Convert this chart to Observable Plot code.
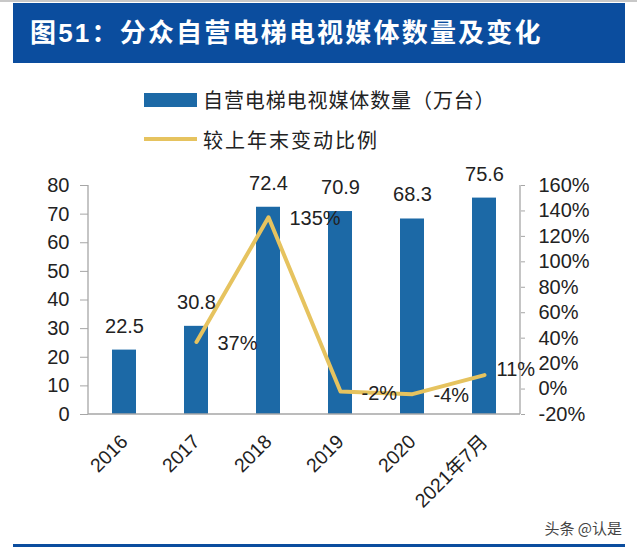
<!DOCTYPE html>
<html><head><meta charset="utf-8">
<script src="https://cdn.jsdelivr.net/npm/d3@7"></script>
<script src="https://cdn.jsdelivr.net/npm/@observablehq/plot@0.6"></script>
<style>
html,body{margin:0;padding:0;background:#fff;}
#page{position:relative;width:637px;height:551px;overflow:hidden;font-family:"Liberation Sans","Noto Sans CJK SC",sans-serif;color:#222;}
#topline{position:absolute;left:0;top:0;width:637px;height:2px;background:#c8c8c8;}
#title{position:absolute;left:13px;top:3px;width:612px;height:60px;background:#0b4d9e;color:#fff;font-weight:bold;font-size:26px;letter-spacing:2.2px;line-height:60px;padding-left:17px;box-sizing:border-box;font-family:"Liberation Sans","Noto Sans CJK SC",sans-serif;white-space:nowrap;}
.leg{position:absolute;left:144px;height:24px;font-size:20px;font-family:"Noto Sans CJK SC",sans-serif;color:#222;white-space:nowrap;}
.sw{position:absolute;left:0;width:53px;}
.lt{position:absolute;left:59px;top:0;line-height:24px;}
#chart{position:absolute;left:0;top:160px;}
#footer{position:absolute;right:15px;top:518px;font-size:15px;line-height:20px;color:#444;font-family:"Noto Sans CJK SC",sans-serif;}
#bottomline{position:absolute;left:13px;top:544px;width:612px;height:3px;background:#0b4d9e;}
</style>
</head><body>
<div id="page">
  <div id="topline"></div>
  <div id="title"></div>
  <div class="leg" style="top:88px;"><div class="sw" style="top:5px;height:14px;background:#1c69a6"></div><div class="lt" id="leg1t" style="letter-spacing:0.9px"></div></div>
  <div class="leg" style="top:128px;"><div class="sw" style="top:9px;height:3.5px;background:#e6c35f"></div><div class="lt" id="leg2t" style="letter-spacing:2px"></div></div>
  <div id="chart"></div>
  <div id="footer">头条 @认是</div>
  <div id="bottomline"></div>
</div>
<script>
const titleText = "图51：分众自营电梯电视媒体数量及变化";
const barSeriesName = "自营电梯电视媒体数量（万台）";
const lineSeriesName = "较上年末变动比例";
const categories = ["2016", "2017", "2018", "2019", "2020", "2021年7月"];
const mediaCount = [22.5, 30.8, 72.4, 70.9, 68.3, 75.6];
const changePct = [null, 37, 135, -2, -4, 11];
const leftTicks = [0, 10, 20, 30, 40, 50, 60, 70, 80];
const rightTicks = [-20, 0, 20, 40, 60, 80, 100, 120, 140, 160];

document.getElementById("title").textContent = titleText;
document.getElementById("leg1t").textContent = barSeriesName;
document.getElementById("leg2t").textContent = lineSeriesName;

const barColor = "#1c69a6";
const lineColor = "#e6c35f";
const axisColor = "#a6a6a6";
const textColor = "#222";

// map percentage axis onto the bar axis (left 0..80 <-> right -20%..160%)
const lMin = leftTicks[0], lMax = leftTicks[leftTicks.length - 1];
const rMin = rightTicks[0], rMax = rightTicks[rightTicks.length - 1];
const toLeft = p => lMin + (p - rMin) * (lMax - lMin) / (rMax - rMin);
const toRight = v => rMin + (v - lMin) * (rMax - rMin) / (lMax - lMin);

const bars = categories.map((c, i) => ({cat: c, val: mediaCount[i]}));
const pts = categories.map((c, i) => ({cat: c, pct: changePct[i]})).filter(d => d.pct != null);
const lastCat = categories[categories.length - 1];

function axisLines(index, scales, values, dims) {
  const y0 = scales.y(lMin), y1 = scales.y(lMax);
  const xl = dims.marginLeft, xr = dims.width - dims.marginRight;
  const g = d3.create("svg:g").attr("stroke", axisColor).attr("stroke-width", 1.3);
  g.append("line").attr("x1", xl).attr("x2", xl).attr("y1", y0).attr("y2", y1);
  g.append("line").attr("x1", xr).attr("x2", xr).attr("y1", y0).attr("y2", y1);
  g.append("line").attr("x1", xl).attr("x2", xr).attr("y1", y0).attr("y2", y0);
  return g.node();
}

const chart = Plot.plot({
  width: 637,
  height: 360,
  marginTop: 25,
  marginBottom: 106,
  marginLeft: 88,
  marginRight: 117,
  style: {fontFamily: "'Liberation Sans','Noto Sans CJK SC',sans-serif", fontSize: "20px", color: textColor, background: "transparent", overflow: "visible"},
  x: {domain: categories, paddingInner: 0.667, paddingOuter: 0.333, label: null},
  y: {domain: [lMin, lMax], label: null},
  marks: [
    Plot.barY(bars, {x: "cat", y: "val", fill: barColor}),
    Plot.axisY(leftTicks, {anchor: "left", tickSize: 8, tickPadding: 11, stroke: axisColor, fill: textColor, fontSize: 20, label: null}),
    Plot.axisY(rightTicks.map(toLeft), {anchor: "right", tickSize: 4, tickPadding: 14, stroke: axisColor, fill: textColor, fontSize: 20, label: null, tickFormat: v => Math.round(toRight(v)) + "%"}),
    Plot.axisX({anchor: "bottom", tickSize: 0, tickPadding: 24, tickRotate: -45, fontSize: 19.5, fill: textColor, label: null}),
    axisLines,
    Plot.line(pts, {x: "cat", y: d => toLeft(d.pct), stroke: lineColor, strokeWidth: 4, strokeLinejoin: "round"}),
    Plot.text(bars, {x: "cat", y: "val", text: d => d.val.toFixed(1), dy: -24, fontSize: 20, fill: textColor}),
    Plot.text(pts, {filter: d => d.cat !== lastCat, x: "cat", y: d => toLeft(d.pct), text: d => d.pct + "%", dx: 21, dy: 1.5, textAnchor: "start", fontSize: 20, fill: textColor}),
    Plot.text(pts, {filter: d => d.cat === lastCat, x: "cat", y: d => toLeft(d.pct), text: d => d.pct + "%", dx: 12, dy: -5, textAnchor: "start", fontSize: 20, fill: textColor})
  ]
});
document.getElementById("chart").appendChild(chart);
</script>
</body></html>
